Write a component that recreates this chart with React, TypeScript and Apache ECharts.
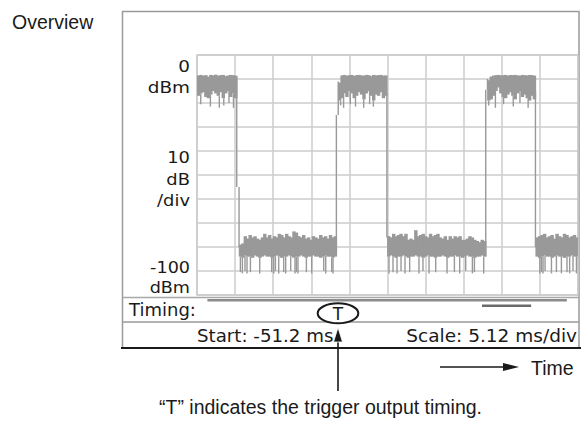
import React, { useEffect, useRef } from "react";
import * as echarts from "echarts";

// ---- axes ----
const xMin = -51.2;
const xMax = 0;
const xStep = 5.12; // ms / div
const yMin = -100;
const yMax = 0;
const yStep = 10; // dB / div

// ---- texts ----
const titleText = "Overview";
const yLabelTop = "0\ndBm";
const yLabelMid = "10\ndB\n/div";
const yLabelBottom = "-100\ndBm";
const timingText = "Timing:";
const startText = "Start: -51.2 ms";
const scaleText = "Scale: 5.12 ms/div";
const triggerText = "T";
const timeText = "Time";
const captionText = "\u201CT\u201D indicates the trigger output timing.";

// ---- trace segments (ms) ----
const segStart = [-51.2, -45.55, -32.22, -25.62, -12.17, -5.68];
const segEnd = [-45.86, -32.47, -25.68, -12.4, -5.72, 0];

const high1Top = [-8.5, -8.3, -8.6, -8.4, -9.0, -8.3, -8.5, -8.2, -8.6, -8.4, -8.3, -8.8, -8.5, -8.3, -8.4, -8.6];
const high1Bottom = [-17, -16, -15.5, -17.5, -18, -16.5, -15, -16, -17, -15.5, -18, -16, -15, -17.5, -16, -18];

const low1Top = [
  -79, -78.5, -75.5, -76.5, -75, -76, -75.5, -76.5, -77, -76,
  -74.5, -76, -75, -76.5, -75.5, -76, -74.5, -75, -76, -74.5,
  -75.5, -76, -73.5, -74, -75.5, -76, -75, -76.5, -76, -77,
  -75.5, -76, -76.5, -75, -76, -75.5, -76.5, -75, -76, -75.5,
];
const low1Bottom = [
  -84, -84.5, -83.5, -84, -84, -84.5, -83.5, -84, -84.5, -84,
  -83.5, -84, -84, -84.5, -84, -83.5, -84, -84.5, -84, -84,
  -83.5, -84, -84.5, -84, -84, -83.5, -84, -84.5, -84, -84,
  -83.5, -84, -84, -84.5, -84, -83.5, -84, -84, -84.5, -84,
];

const high2Top = [-11.5, -8.5, -8.3, -8.6, -8.4, -8.3, -8.7, -8.4, -8.3, -8.5, -8.6, -8.3, -8.4, -8.8, -8.3, -8.5, -8.4, -8.3, -8.6, -8.5];
const high2Bottom = [-19, -18, -16, -17.5, -15, -16, -18, -17, -15.5, -16.5, -18.5, -16, -15, -17, -19, -16.5, -17, -15.5, -18, -17];

const low2Top = [
  -75.5, -76, -74.5, -75.5, -75, -74.5, -75.5, -74.5, -77, -76.5,
  -77, -73, -75.5, -75, -74.5, -75.5, -76, -74.5, -75.5, -75,
  -74.5, -76, -76.5, -75.5, -77, -75.5, -76.5, -75.5, -76, -75.5,
  -77, -77, -76.5, -75.5, -76, -77, -77.5, -78, -77, -77.5,
];
const low2Bottom = [
  -84, -83.5, -84, -84.5, -84, -84, -83.5, -84, -84.5, -84,
  -84, -83.5, -84, -84, -84.5, -84, -83.5, -84, -84, -84.5,
  -84, -84, -83.5, -84, -84.5, -84, -84, -83.5, -84, -84,
  -84.5, -84, -83.5, -84, -84, -84.5, -84, -84, -83.5, -84,
];

const high3Top = [-10.5, -9, -8.6, -8.4, -8.3, -8.5, -8.4, -8.3, -8.6, -8.3, -8.4, -8.3, -8.5, -8.6, -8.3, -8.4, -8.5, -8.3, -8.4, -8.6];
const high3Bottom = [-19, -18.5, -17, -15, -13.5, -16, -17.5, -18, -16.5, -15.5, -17, -18.5, -16, -15, -17.5, -16.5, -18, -19, -17, -18.5];

const low3Top = [-76, -75.5, -75, -74.5, -76, -75.5, -75, -76.5, -74.5, -75.5, -76, -74.5, -75, -76, -75.5, -75, -76];
const low3Bottom = [-84, -84.5, -84, -83.5, -84, -84, -84.5, -84, -83.5, -84, -84, -84.5, -84, -84, -83.5, -84, -84];

// dropouts below the noise band: [time ms, level dBm]
const lowDropouts = [
  [-45.37, -90.5], [-45.1, -91], [-44.75, -90], [-44.48, -91], [-44.02, -90.5], [-42.77, -91],
  [-41.16, -90.5], [-40.89, -91], [-40.66, -90], [-40.22, -91], [-39.55, -90.5], [-39.28, -91],
  [-38.61, -90], [-38.03, -91], [-37.84, -90.5], [-37.63, -91], [-36.5, -90.5], [-35.79, -91],
  [-34.17, -90], [-33.9, -91], [-33.1, -90.5], [-32.92, -91],
  [-25.4, -91], [-24.86, -90.5], [-24.32, -91], [-23.78, -90], [-23.25, -91], [-22.62, -90.5],
  [-21.37, -91], [-20.83, -90], [-20.02, -91], [-19.12, -90.5], [-17.6, -91], [-16.61, -90.5],
  [-15.9, -91], [-15.09, -90], [-14.19, -91], [-13.92, -90.5], [-12.67, -91],
  [-5.13, -91], [-4.9, -90.5], [-4.7, -91], [-4.43, -90], [-3.57, -91], [-2.9, -90.5],
  [-2.23, -91], [-1.48, -90.5], [-1.12, -91], [-0.67, -90], [-0.21, -91],
];
const highDropouts = [
  [-50.7, -20.5], [-49.4, -21.5], [-48.2, -22], [-47.6, -21], [-46.9, -20], [-46.3, -22],
  [-31.9, -21], [-31.5, -22], [-30.6, -20.5], [-29.9, -21.5], [-28.8, -22], [-28.0, -20.5], [-27.5, -21.5],
  [-12.0, -21], [-11.1, -22], [-10.0, -20.5], [-8.7, -21.5], [-7.8, -20], [-6.7, -22],
];

// transitions: [time ms, from dBm, to dBm]
const edges = [
  [-45.86, -9, -55], [-45.55, -55, -80],
  [-32.47, -83, -25], [-32.22, -25, -11],
  [-25.68, -16, -76],
  [-12.4, -84, -14.5], [-12.17, -14.5, -10],
  [-5.72, -15, -80],
];

// timing bars: [start ms, end ms]
const timingSpans = [
  [-49.8, -1.5],
  [-12.9, -6.3],
];

const TRACE = "#999999";
const GRID = "#cccccc";
const INK = "#1a1a1a";

function buildBand() {
  const segs = [
    [high1Top, high1Bottom], [low1Top, low1Bottom],
    [high2Top, high2Bottom], [low2Top, low2Bottom],
    [high3Top, high3Bottom], [low3Top, low3Bottom],
  ];
  const out: number[][] = [];
  segs.forEach(([top, bot], i) => {
    const n = top.length;
    const w = (segEnd[i] - segStart[i]) / n;
    for (let j = 0; j < n; j++) {
      out.push([segStart[i] + j * w, segStart[i] + (j + 1) * w, top[j], bot[j]]);
    }
  });
  return out;
}

export default function App() {
  const ref = useRef<HTMLDivElement>(null);
  useEffect(() => {
    if (!ref.current) return;
    const chart = echarts.init(ref.current, null, { renderer: "svg" });
    const band = buildBand();
    const bandBottomAt = (t: number) => {
      const it = band.find((b) => t >= b[0] && t <= b[1]);
      return it ? it[3] : t;
    };
    const dropData = [...lowDropouts, ...highDropouts].map(([t, d]) => [t, bandBottomAt(t), d]);
    const lineItem = (params: any, api: any) => {
      const a = api.coord([api.value(0), api.value(1)]);
      const b = api.coord([api.value(0), api.value(2)]);
      return {
        type: "line",
        shape: { x1: a[0], y1: a[1], x2: b[0], y2: b[1] },
        style: { stroke: TRACE, lineWidth: 1.4 },
      };
    };
    const dejavu = "DejaVu Sans";
    const arial = "Liberation Sans";
    const option: any = {
      animation: false,
      grid: {
        left: 197, top: 55, width: 381, height: 240,
        show: true, borderColor: GRID, borderWidth: 1.5, backgroundColor: "transparent",
      },
      xAxis: {
        type: "value", min: xMin, max: xMax, interval: xStep,
        axisLine: { show: false }, axisTick: { show: false }, axisLabel: { show: false },
        splitLine: { show: true, lineStyle: { color: GRID, width: 1.5 } },
      },
      yAxis: {
        type: "value", min: yMin, max: yMax, interval: yStep,
        axisLine: { show: false }, axisTick: { show: false }, axisLabel: { show: false },
        splitLine: { show: true, lineStyle: { color: GRID, width: 1.5 } },
      },
      series: [
        {
          type: "custom", name: "band", clip: true, silent: true, z: 3,
          data: band, encode: { x: [0, 1], y: [2, 3] },
          renderItem: (params: any, api: any) => {
            const a = api.coord([api.value(0), api.value(2)]);
            const b = api.coord([api.value(1), api.value(3)]);
            return {
              type: "rect",
              shape: { x: a[0] - 0.3, y: a[1], width: b[0] - a[0] + 1, height: b[1] - a[1] },
              style: { fill: TRACE },
            };
          },
        },
        {
          type: "custom", name: "dropouts", clip: true, silent: true, z: 3,
          data: dropData, encode: { x: 0, y: [1, 2] }, renderItem: lineItem,
        },
        {
          type: "custom", name: "edges", clip: true, silent: true, z: 3,
          data: edges, encode: { x: 0, y: [1, 2] }, renderItem: lineItem,
        },
        {
          type: "custom", name: "timing", clip: false, silent: true, z: 3,
          data: timingSpans.map(([a, b]) => [a, b, yMin]),
          encode: { x: [0, 1], y: 2 },
          renderItem: (params: any, api: any) => {
            const a = api.coord([api.value(0), api.value(2)]);
            const b = api.coord([api.value(1), api.value(2)]);
            const first = params.dataIndex === 0;
            return {
              type: "rect",
              shape: { x: a[0], y: a[1] + (first ? 4 : 9.5), width: b[0] - a[0], height: 2.5 },
              style: { fill: first ? "#8c8c8c" : "#6a6a6a" },
            };
          },
        },
      ],
      graphic: [
        { type: "rect", shape: { x: 122.5, y: 11.5, width: 456.5, height: 336.5 }, style: { fill: "none", stroke: "#9a9a9a", lineWidth: 1.5 } },
        { type: "line", shape: { x1: 122.5, y1: 297.5, x2: 579, y2: 297.5 }, style: { stroke: "#a8a8a8", lineWidth: 1.5 } },
        { type: "line", shape: { x1: 122.5, y1: 322, x2: 579, y2: 322 }, style: { stroke: "#9a9a9a", lineWidth: 1.5 } },
        { type: "line", shape: { x1: 121, y1: 348, x2: 581, y2: 348 }, style: { stroke: INK, lineWidth: 2 } },
        { type: "text", x: 12, y: 22, style: { text: titleText, fontFamily: arial, fontSize: 19.5, fill: INK, align: "left", verticalAlign: "middle" } },
        { type: "text", x: 190, y: 76.5, scaleX: 1.15, style: { text: yLabelTop, fontFamily: dejavu, fontSize: 16, lineHeight: 21, fill: INK, align: "right", verticalAlign: "middle" } },
        { type: "text", x: 190, y: 179, scaleX: 1.12, style: { text: yLabelMid, fontFamily: dejavu, fontSize: 16, lineHeight: 21.5, fill: INK, align: "right", verticalAlign: "middle" } },
        { type: "text", x: 190, y: 277.5, scaleX: 1.1, style: { text: yLabelBottom, fontFamily: dejavu, fontSize: 16, lineHeight: 20, fill: INK, align: "right", verticalAlign: "middle" } },
        { type: "text", x: 129, y: 309, style: { text: timingText, fontFamily: dejavu, fontSize: 18, fill: INK, align: "left", verticalAlign: "middle" } },
        { type: "text", x: 197, y: 335.5, style: { text: startText, fontFamily: dejavu, fontSize: 18.2, fill: INK, align: "left", verticalAlign: "middle" } },
        { type: "text", x: 577, y: 335.5, style: { text: scaleText, fontFamily: dejavu, fontSize: 18.5, fill: INK, align: "right", verticalAlign: "middle" } },
        { type: "ellipse", shape: { cx: 338, cy: 313.3, rx: 20.3, ry: 10 }, style: { fill: "#ffffff", stroke: INK, lineWidth: 2 } },
        { type: "text", x: 338, y: 313.8, style: { text: triggerText, fontFamily: dejavu, fontSize: 17, fill: INK, align: "center", verticalAlign: "middle" } },
        { type: "line", shape: { x1: 338, y1: 340, x2: 338, y2: 391 }, style: { stroke: INK, lineWidth: 1.6 } },
        { type: "polygon", shape: { points: [[338, 327.5], [333.5, 342], [342.5, 342]] }, style: { fill: INK, stroke: "#ffffff", lineWidth: 0.8 } },
        { type: "line", shape: { x1: 440, y1: 367, x2: 506, y2: 367 }, style: { stroke: INK, lineWidth: 1.6 } },
        { type: "polygon", shape: { points: [[519, 367], [503, 363], [503, 371]] }, style: { fill: INK } },
        { type: "text", x: 531, y: 368, style: { text: timeText, fontFamily: arial, fontSize: 19.5, fill: INK, align: "left", verticalAlign: "middle" } },
        { type: "text", x: 320.5, y: 407, style: { text: captionText, fontFamily: arial, fontSize: 19.5, fill: INK, align: "center", verticalAlign: "middle" } },
      ],
    };
    chart.setOption(option);
    return () => chart.dispose();
  }, []);
  return (
    <div
      ref={ref}
      style={{ position: "absolute", left: 0, top: 0, width: 581, height: 424, background: "#ffffff" }}
    />
  );
}
